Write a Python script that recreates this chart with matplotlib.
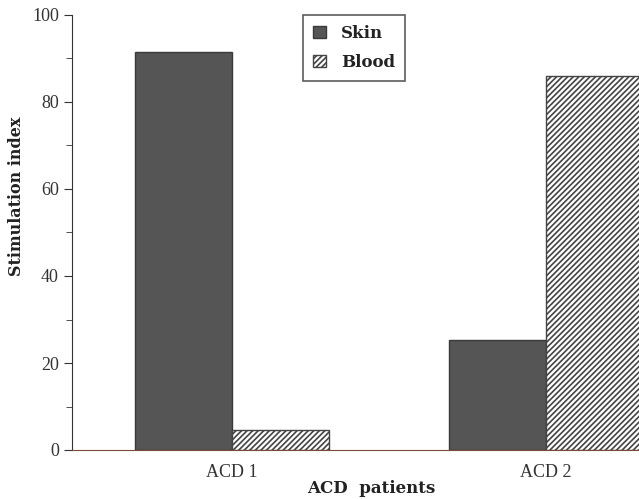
import matplotlib
matplotlib.use("Agg")
import matplotlib.pyplot as plt
import numpy as np

categories = ["ACD 1", "ACD 2"]
skin = [91.5, 25.2]
blood = [4.5, 86.0]
yticks = [0, 20, 40, 60, 80, 100]

plt.rcParams['font.family'] = ['Liberation Serif', 'DejaVu Serif']
plt.rcParams['hatch.linewidth'] = 1.2
plt.rcParams['hatch.color'] = '#555555'
boldfam = ['DejaVu Serif']

fig = plt.figure(figsize=(6.39, 4.99), dpi=100)
ax = fig.add_axes([72/639, 1-450/499, 1-72/639, (450-15)/499])

x = np.arange(len(categories))
w = 0.31
ax.bar(x - w/2, skin, w, color='#555555', edgecolor='#3a3a3a', linewidth=1.0, label='Skin')
ax.bar(x + w/2, blood, w, color='white', edgecolor='#444444', hatch='//////', linewidth=1.0, label='Blood')

ax.set_xlim(-0.51, 1.296)
ax.set_ylim(0, 100)
ax.set_yticks(yticks)
ax.set_yticks(np.arange(10, 100, 20), minor=True)
ax.tick_params(axis='y', which='major', length=6, labelsize=13, direction='out', colors='#333333', labelcolor='#333333')
ax.tick_params(axis='y', which='minor', length=4, direction='out', colors='#333333')
ax.set_xticks(x)
ax.set_xticklabels(categories, fontsize=13, color='#333333')
ax.tick_params(axis='x', length=0, pad=10)
for s in ['top', 'right']:
    ax.spines[s].set_visible(False)
ax.spines['left'].set_color('#333333')
ax.spines['bottom'].set_color('#7a4a3a')

ax.set_ylabel('Stimulation index', fontsize=11.5, fontweight='bold', family=boldfam, color='#222222')
ax.yaxis.set_label_coords((25-72)/567, (450-196)/435)
ax.set_xlabel('ACD  patients', fontsize=12, fontweight='bold', family=boldfam, color='#222222')
ax.xaxis.set_label_coords((371-72)/567, -0.07)

leg = ax.legend(loc='upper left', bbox_to_anchor=((303-72)/567, 1.0), frameon=True, fancybox=False,
                edgecolor='#333333', prop={'weight': 'bold', 'size': 12, 'family': boldfam},
                handlelength=0.75, handleheight=0.75, handletextpad=0.95, borderpad=0.6,
                labelspacing=0.7, borderaxespad=0)
leg.get_frame().set_linewidth(1.2)
for t in leg.get_texts():
    t.set_color('#222222')

fig.savefig('out.png', dpi=100)
